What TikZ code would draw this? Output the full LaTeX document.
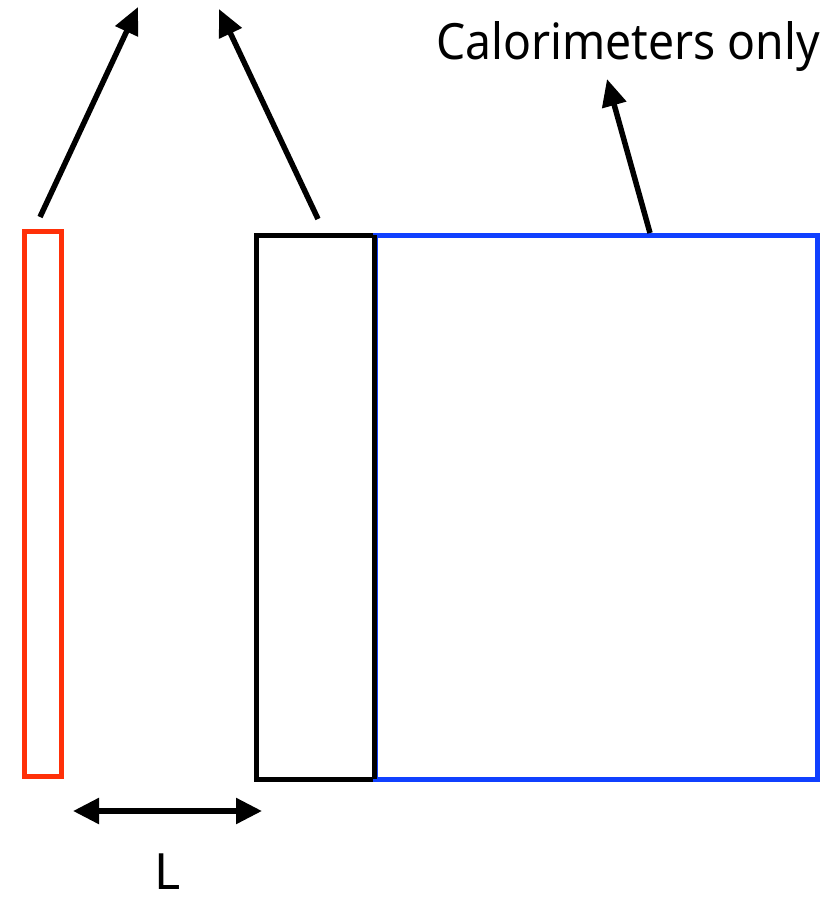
\documentclass[tikz,border=0pt]{standalone}
\usepackage{fontspec}
\setmainfont{Noto Sans}
\usetikzlibrary{arrows.meta}
\begin{document}
\begin{tikzpicture}[x=1pt,y=-1pt,
  boxshape/.style={draw,line width=5pt,inner sep=0pt,outer sep=0pt},
  ptr/.style={line width=5.5pt,-{Triangle[length=27pt,width=24pt]}},
  dbl/.style={line width=5.5pt,{Triangle[length=26pt,width=25pt]}-{Triangle[length=26pt,width=25pt]}},
  lbl/.style={inner sep=0pt,font=\fontsize{50}{58}\selectfont}]
\useasboundingbox (0,0) rectangle (839,897);
\node[boxshape,draw={rgb,255:red,255;green,48;blue,8},minimum width=37pt,minimum height=545pt] (red) at (42.5,503.5) {};
\node[boxshape,minimum width=118pt,minimum height=544pt] (blk) at (315.5,507) {};
\node[boxshape,draw={rgb,255:red,16;green,64;blue,255},minimum width=442pt,minimum height=544pt] (blu) at (596,507) {};
\draw[boxshape] (blk.north east) -- (blk.south east);
\coordinate (s1) at (40,217);
\coordinate (t1) at (138,7);
\coordinate (s2) at (318,219);
\coordinate (t2) at (219,9);
\coordinate (s3) at (650,233);
\coordinate (t3) at (607,79);
\draw[ptr] (s1) -- (t1);
\draw[ptr] (s2) -- (t2);
\draw[ptr] (s3) -- (t3);
\node[lbl,anchor=base west] (cal) at (436,59) {\scalebox{0.925}[1]{Calorimeters only}};
\coordinate (la) at (73,811);
\coordinate (lb) at (262,811);
\draw[dbl] (la) -- (lb);
\node[lbl,anchor=base] (L) at (168,889) {L};
\end{tikzpicture}
\end{document}
